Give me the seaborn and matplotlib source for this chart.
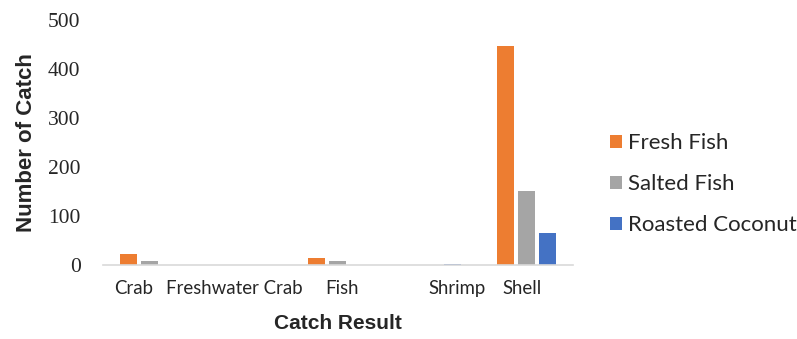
import matplotlib
matplotlib.use("Agg")
import matplotlib.pyplot as plt
import matplotlib.transforms as mtransforms
import seaborn as sns
import pandas as pd

categories = ["Crab", "Freshwater Crab", "Fish", "Shrimp", "Shell"]
series = ["Fresh Fish", "Salted Fish", "Roasted Coconut"]
fresh_fish = [23, 0, 15, 0, 446]
salted_fish = [8, 0, 8, 0, 152]
roasted_coconut = [0, 0, 0, 3, 65]
y_ticks = [0, 100, 200, 300, 400, 500]

colors = ["#ED7D31", "#A5A5A5", "#4472C4"]

rows = []
for s, vals in zip(series, [fresh_fish, salted_fish, roasted_coconut]):
    for c, v in zip(categories, vals):
        rows.append({"Catch Result": c, "Series": s, "Number of Catch": v})
df = pd.DataFrame(rows)

sns.set_theme(style="white")
fig = plt.figure(figsize=(7.97, 3.39), dpi=100)
ax = fig.add_axes([0.129, 0.218, 0.590, 0.723])

sns.barplot(data=df, x="Catch Result", y="Number of Catch", hue="Series",
            order=categories, hue_order=series, palette=colors,
            width=0.67, gap=0.19, ax=ax, legend=True, errorbar=None,
            linewidth=0, saturation=1)

ax.set_xlim(-0.5, len(categories) - 0.5)
ax.set_ylim(0, 500)
ax.set_yticks(y_ticks)
ax.set_yticklabels([str(t) for t in y_ticks], fontfamily="Liberation Serif", fontsize=15.5)
ax.tick_params(axis="y", length=0, pad=16)
ax.tick_params(axis="x", length=0, pad=11)

# label nudges (in points) to mimic the original's uneven label placement
label_nudges = [-12, -7, 3, 18, -3]
for lab, dx in zip(ax.get_xticklabels(), label_nudges):
    lab.set_fontfamily("Lato")
    lab.set_fontsize(13.4)
    lab.set_transform(lab.get_transform() +
                      mtransforms.ScaledTranslation(dx / 72, 0, fig.dpi_scale_trans))

for sp in ["top", "right", "left"]:
    ax.spines[sp].set_visible(False)
ax.spines["bottom"].set_color("#D9D9D9")
ax.spines["bottom"].set_linewidth(1.2)

ax.set_xlabel("Catch Result", fontfamily="Liberation Sans", fontweight="bold",
              fontsize=15, labelpad=12)
ax.set_ylabel("Number of Catch", fontfamily="Liberation Sans", fontweight="bold",
              fontsize=16, labelpad=8)

handles, labels = ax.get_legend_handles_labels()
ax.legend(handles, labels, loc="center left", bbox_to_anchor=(1.035, 0.33),
          frameon=False, prop={"family": "Lato", "size": 16},
          handlelength=0.55, handleheight=0.55, handletextpad=0.3,
          labelspacing=0.95)

fig.savefig("out.png", dpi=100)
